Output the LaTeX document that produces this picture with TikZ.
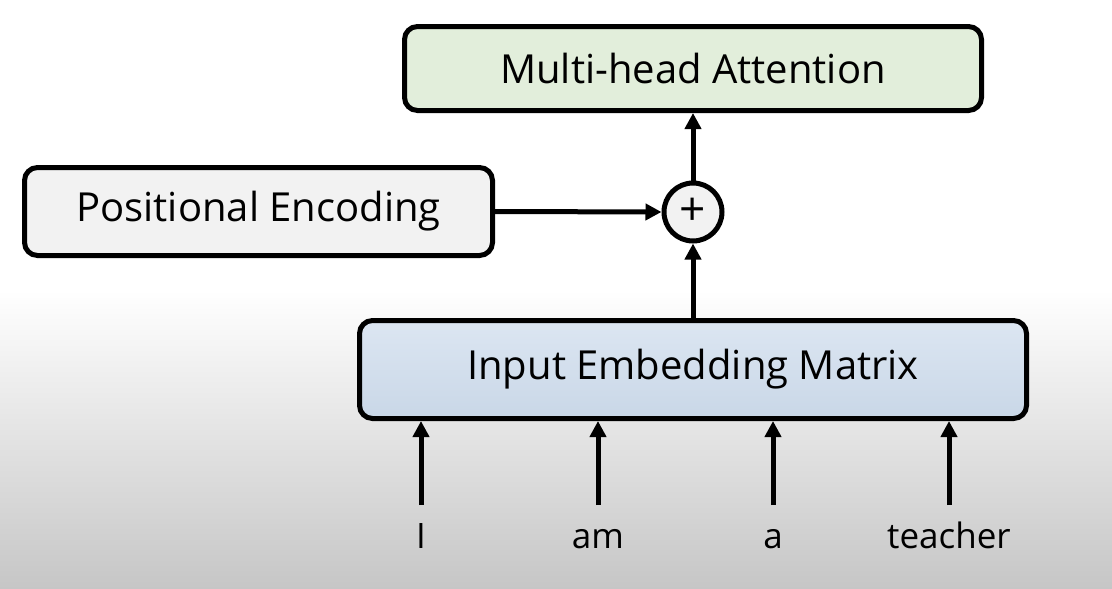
\documentclass[tikz,border=0pt]{standalone}
\usepackage{fontspec}
\setsansfont{Open Sans}
\usetikzlibrary{positioning,arrows.meta}

\definecolor{mhagreen}{HTML}{E2EEDB}
\definecolor{pegray}{HTML}{F2F2F2}
\definecolor{iemtop}{HTML}{DCE6F2}
\definecolor{iembot}{HTML}{C9D7E7}
\definecolor{bgbot}{HTML}{C6C6C6}

\tikzset{
  block/.style={draw, line width=5pt, rounded corners=13pt, inner sep=0pt,
    font=\sffamily\fontsize{40}{44}\selectfont},
  sumnode/.style={draw, circle, line width=5pt, fill=pegray, minimum size=58pt,
    inner sep=0pt, font=\sffamily\fontsize{46}{50}\selectfont},
  word/.style={anchor=north, inner xsep=0pt, inner ysep=19pt, text height=24pt,
    text depth=8pt, font=\sffamily\fontsize{35}{40}\selectfont},
  flow/.style={line width=5pt, -{Triangle[length=16pt,width=16pt]}},
}

\begin{document}
\begin{tikzpicture}[x=1pt,y=-1pt]
% background
\fill[white] (0,0) rectangle (1112,589);
\shade[top color=white, bottom color=bgbot] (0,290) rectangle (1112,589);

\node[block, fill=mhagreen, minimum width=577pt, minimum height=84pt] (mha) at (693,68.5) {Multi-head Attention};
\node[block, fill=pegray, minimum width=468pt, minimum height=88pt] (pe) at (258.5,211.5) {Positional Encoding};
\node[sumnode] (plus) at (693,212) {+};
\node[block, top color=iemtop, bottom color=iembot, minimum width=667pt, minimum height=98pt] (iem) at (693,369.5) {Input Embedding Matrix};

\node[word] (w1) at (421,505) {I};
\node[word] (w2) at (598,505) {am};
\node[word] (w3) at (773,505) {a};
\node[word] (w4) at (949,505) {teacher};

\draw[flow] (pe.east) -- (plus.west);
\draw[flow] (iem.north) -- (plus.south);
\draw[flow] (plus.north) -- (mha.south);
\draw[flow] (w1.north) -- (w1 |- iem.south);
\draw[flow] (w2.north) -- (w2 |- iem.south);
\draw[flow] (w3.north) -- (w3 |- iem.south);
\draw[flow] (w4.north) -- (w4 |- iem.south);
\end{tikzpicture}
\end{document}
